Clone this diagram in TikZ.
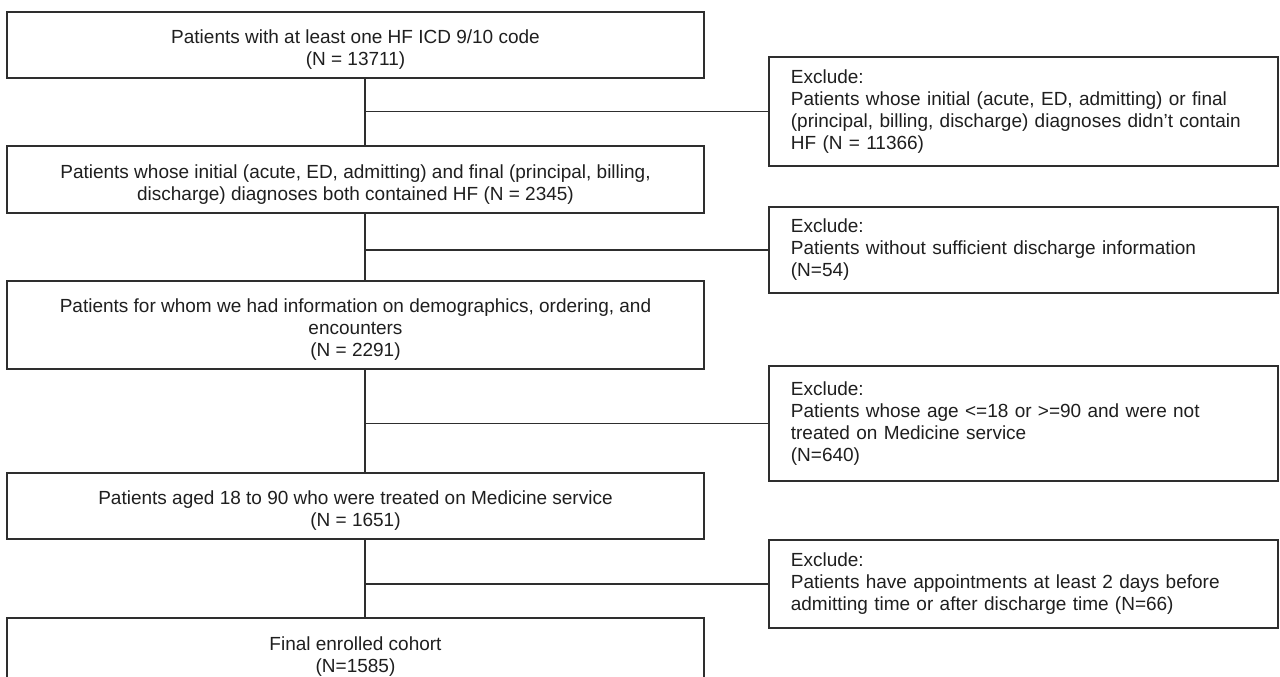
\documentclass[tikz,border=0pt]{standalone}
\usepackage{fontspec}
\setmainfont{Liberation Sans}
\newcommand\topgap{\rule{0pt}{23pt}}
\begin{document}
\begin{tikzpicture}[x=1pt,y=-1pt,
  box/.style={draw=black!82, line width=1.7pt, fill=white, inner sep=0pt,
    font=\fontsize{19}{22}\selectfont, text=black!88},
  mainbox/.style={box, minimum width=697pt, align=center},
  exbox/.style={box, anchor=west, text width=465pt, inner xsep=22pt, align=left},
  link/.style={draw=black!82, line width=1.6pt}]
\clip (0,0) rectangle (1280,677);
\fill[white] (0,0) rectangle (1280,677);

\coordinate (spine) at (365,0);

% main column
\node[mainbox, minimum height=66pt] (b1) at (355.5,45)
  {\topgap Patients with at least one HF ICD 9/10 code\\(N = 13711)};
\node[mainbox, minimum height=67pt] (b2) at (355.5,179.5)
  {\topgap Patients whose initial (acute, ED, admitting) and final (principal, billing,\\discharge) diagnoses both contained HF (N = 2345)};
\node[mainbox, minimum height=88pt] (b3) at (355.5,325)
  {\topgap Patients for whom we had information on demographics, ordering, and\\encounters\\(N = 2291)};
\node[mainbox, minimum height=66pt] (b4) at (355.5,506)
  {\topgap Patients aged 18 to 90 who were treated on Medicine service\\(N = 1651)};
\node[mainbox, minimum height=68pt] (b5) at (355.5,652)
  {\topgap Final enrolled cohort\\(N=1585)};

% exclusion boxes
\node[exbox, minimum height=109pt] (r1) at (768,111.5)
  {Exclude:\\Patients whose initial (acute, ED, admitting) or final\\(principal, billing, discharge) diagnoses didn’t contain\\HF (N = 11366)};
\node[exbox, minimum height=86pt] (r2) at (768,250)
  {Exclude:\\Patients without sufficient discharge information\\(N=54)};
\node[exbox, minimum height=115pt] (r3) at (768,423.5)
  {Exclude:\\Patients whose age <=18 or >=90 and were not\\treated on Medicine service\\(N=640)};
\node[exbox, minimum height=88pt] (r4) at (768,584)
  {Exclude:\\Patients have appointments at least 2 days before\\admitting time or after discharge time (N=66)};

% connectors
\draw[link] (b1.south -| spine) -- (b2.north -| spine);
\draw[link] (b2.south -| spine) -- (b3.north -| spine);
\draw[link] (b3.south -| spine) -- (b4.north -| spine);
\draw[link] (b4.south -| spine) -- (b5.north -| spine);
\draw[link] (r1.west -| spine) -- (r1.west);
\draw[link] (r2.west -| spine) -- (r2.west);
\draw[link] (r3.west -| spine) -- (r3.west);
\draw[link] (r4.west -| spine) -- (r4.west);
\end{tikzpicture}
\end{document}
